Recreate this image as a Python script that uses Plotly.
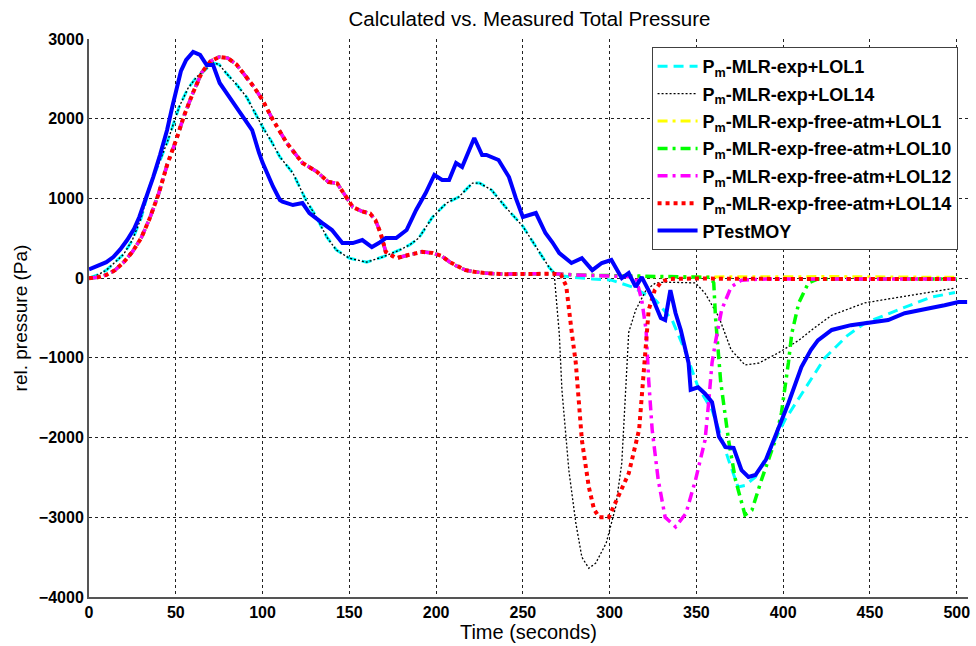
import plotly.graph_objects as go

# ---------------- data ----------------
# shared early part of the two "MLR-exp" runs (LOL1, LOL14)
t_exp_base = [0, 5, 10, 15, 20, 25, 30, 35, 40, 45, 52, 57, 62, 67, 71.5, 75, 79, 85, 90.8, 95,
              100, 105, 110, 117.5, 125, 131, 137, 142.5, 150, 160, 169, 179, 185, 190, 198, 206,
              213, 221, 225, 232, 240, 250, 256, 259, 265]
p_exp_base = [0, 40, 100, 200, 300, 480, 750, 1150, 1420, 1700, 2150, 2380, 2523, 2620, 2700, 2680,
              2573, 2430, 2272, 2100, 1896, 1720, 1520, 1318, 980, 767, 516, 353, 250, 200, 265,
              353, 420, 503, 767, 942, 1018, 1193, 1193, 1105, 892, 650, 450, 353, 140]

t_lol1_tail = [269, 278, 290, 301, 313, 326.5, 336, 344, 351, 359, 363, 368.5, 374, 378, 384,
               391.5, 401, 413, 424, 437, 447, 466, 485, 499]
p_lol1_tail = [40, 13, -10, -25, -110, -275, -525, -940, -1370, -1655, -1905, -2280, -2620, -2600,
               -2495, -2195, -1780, -1365, -1000, -720, -565, -400, -240, -180]

t_lol14_tail = [268, 269, 271, 272.5, 275, 276.5, 280.5, 284, 288, 292, 298, 303.5, 307, 309, 311,
                315, 321, 326.5, 332, 349.5, 355, 363, 370, 378, 386, 397, 409, 418.5, 428, 447,
                466, 485, 499]
p_lol14_tail = [64, -200, -700, -1400, -2030, -2410, -3070, -3500, -3640, -3575, -3325, -2870,
                -2320, -1450, -680, -400, -150, -60, -50, -60, -190, -490, -900, -1090, -1065,
                -940, -780, -615, -465, -310, -240, -175, -125]

# shared early part of the "MLR-exp-free-atm" runs
t_free_base = [0, 5, 10, 15, 20, 25, 30, 35, 40, 45, 50, 55, 60, 65, 70, 75, 80, 85, 90, 95, 100,
               106, 114, 123, 131, 138, 143, 148, 152, 157, 162, 165, 168, 171, 177, 184, 192,
               198, 203, 208, 212, 217, 222, 230, 240, 250, 260, 268]
p_free_base = [0, 10, 40, 100, 200, 330, 500, 750, 1050, 1420, 1720, 2050, 2330, 2580, 2720, 2775,
               2760, 2680, 2540, 2400, 2234, 1984, 1695, 1444, 1340, 1206, 1190, 1018, 892, 840,
               810, 730, 566, 330, 250, 290, 330, 315, 280, 200, 150, 100, 80, 60, 50, 55, 60, 55]

t_free1_tail = [280, 300, 320, 350, 380, 400, 430, 460, 500]
p_free1_tail = [40, 30, 20, 15, 18, 15, 20, 15, 10]

t_free10_tail = [280, 300, 340, 358, 360, 361, 364, 368.5, 372.5, 378, 382, 387.5, 395.5, 399, 403,
                 405, 409, 414.5, 420, 460, 500]
p_free10_tail = [40, 30, 15, 10, -60, -490, -1300, -2030, -2530, -2970, -2910, -2530, -2030, -1690,
                 -1065, -690, -310, -60, -10, -10, -10]

t_free12_tail = [280, 300, 315, 318.5, 321, 322.5, 324.5, 328, 332, 338, 344, 349.5, 355, 357, 359,
                 361, 364.5, 370, 376, 390, 450, 500]
p_free12_tail = [40, 30, 15, -275, -650, -1280, -1900, -2530, -3000, -3120, -2950, -2530, -2030,
                 -1570, -1065, -800, -400, -110, -25, -10, -10, -10]

t_free14_tail = [272, 275, 278, 280.5, 284, 288, 291, 294, 299.5, 305, 311, 317, 318.5, 321, 322.5,
                 326, 330, 335, 350, 400, 450, 500]
p_free14_tail = [40, -100, -650, -1065, -2030, -2620, -2900, -3000, -3000, -2750, -2450, -1900,
                 -1490, -780, -400, -150, -40, -10, -5, -10, -10, -10]

t_meas = [0, 6, 10, 14, 18, 22, 26, 29, 33, 37, 41, 45, 48, 50.6, 53, 56, 60, 64, 67.8, 71.5, 75.3,
          80, 85, 90, 94, 98, 100, 106, 110, 111.5, 117.5, 123, 127, 134.5, 140, 146, 152, 157.5,
          163, 167, 171, 177, 183, 188.5, 194, 199, 203.5, 207.5, 211.5, 215, 222, 226.5, 229,
          236, 242, 246, 250, 257.5, 263, 267, 271, 278, 284, 290, 295.5, 301, 307, 311, 315,
          318.5, 324.5, 329.5, 332, 335, 338, 341, 345.5, 346.7, 351, 355, 359, 363, 366.8,
          371.4, 376, 380, 384, 390, 395.5, 403, 410.5, 416, 420, 428, 439, 453, 460.5, 470,
          478, 485, 493, 501, 506]
p_meas = [110, 165, 200, 265, 360, 478, 620, 767, 1000, 1268, 1550, 1858, 2150, 2400, 2600, 2737,
          2837, 2800, 2674, 2674, 2448, 2300, 2147, 2000, 1858, 1570, 1450, 1150, 980, 960, 917,
          942, 817, 690, 603, 440, 440, 478, 390, 440, 503, 503, 603, 855, 1068, 1294, 1231, 1231,
          1444, 1394, 1758, 1545, 1545, 1482, 1268, 1000, 767, 817, 566, 450, 315, 190, 250, 100,
          190, 228, 0, 64, -110, 13, -240, -500, -525, -150, -440, -650, -1065, -1400, -1370,
          -1450, -1555, -1990, -2120, -2130, -2410, -2495, -2470, -2280, -1990, -1570, -1115,
          -900, -780, -650, -590, -550, -525, -440, -400, -375, -340, -300, -300]

names = ["P<sub>m</sub>-MLR-exp+LOL1",
         "P<sub>m</sub>-MLR-exp+LOL14",
         "P<sub>m</sub>-MLR-exp-free-atm+LOL1",
         "P<sub>m</sub>-MLR-exp-free-atm+LOL10",
         "P<sub>m</sub>-MLR-exp-free-atm+LOL12",
         "P<sub>m</sub>-MLR-exp-free-atm+LOL14",
         "PTestMOY"]

series = [
    (t_exp_base + t_lol1_tail, p_exp_base + p_lol1_tail),
    (t_exp_base + t_lol14_tail, p_exp_base + p_lol14_tail),
    (t_free_base + t_free1_tail, p_free_base + p_free1_tail),
    (t_free_base + t_free10_tail, p_free_base + p_free10_tail),
    (t_free_base + t_free12_tail, p_free_base + p_free12_tail),
    (t_free_base + t_free14_tail, p_free_base + p_free14_tail),
    (t_meas, p_meas),
]

styles = [
    dict(color="#00FFFF", width=3, dash="10px,6px"),
    dict(color="#000000", width=1.3, dash="2px,2px"),
    dict(color="#FFFF00", width=3, dash="10px,5px,3px,5px"),
    dict(color="#00FF00", width=3.5, dash="10px,5px,3px,5px"),
    dict(color="#FF00FF", width=3.5, dash="10px,5px,3px,5px"),
    dict(color="#FF0000", width=4, dash="4px,4px"),
    dict(color="#0000FF", width=4, dash="solid"),
]

FONT = "Liberation Sans, Arial, Helvetica, sans-serif"

fig = go.Figure()
for i, ((tx, py), nm, st) in enumerate(zip(series, names, styles)):
    fig.add_trace(go.Scatter(x=tx, y=py, mode="lines", name=nm, line=st,
                             legendgroup=f"g{i}"))

fig.update_layout(
    width=976, height=646,
    margin=dict(l=89, r=6, t=39, b=49),
    plot_bgcolor="white", paper_bgcolor="white",
    font=dict(family=FONT, color="black"),
    title=dict(text="Calculated vs. Measured Total Pressure",
               x=(89 + 970) / 2 / 976, xanchor="center", y=1 - 19 / 646, yanchor="middle",
               font=dict(size=20.5, family=FONT)),
    showlegend=True,
    legend=dict(x=0.640, y=0.9857, xanchor="left", yanchor="top",
                bgcolor="white", bordercolor="#404040", borderwidth=1,
                font=dict(size=18, family=FONT, weight="bold"),
                tracegroupgap=1, itemwidth=40),
)

fig.update_xaxes(range=[0, 506.5], dtick=50, tick0=0,
                 showgrid=True, gridcolor="#222", griddash="3px,3px", gridwidth=1,
                 showline=True, linecolor="#555", linewidth=2, mirror=False,
                 zeroline=False, ticks="",
                 tickfont=dict(size=16, family=FONT, weight="bold"),
                 title=dict(text="Time (seconds)", font=dict(size=20, family=FONT), standoff=1))
fig.update_yaxes(range=[-4000, 3000], dtick=1000, tick0=0,
                 showgrid=True, gridcolor="#222", griddash="3px,3px", gridwidth=1,
                 showline=True, linecolor="#555", linewidth=2, mirror=False,
                 zeroline=False, ticks="",
                 tickfont=dict(size=16, family=FONT, weight="bold"),
                 title=dict(text="rel. pressure (Pa)", font=dict(size=19, family=FONT), standoff=6))

fig.write_html("out.html")
